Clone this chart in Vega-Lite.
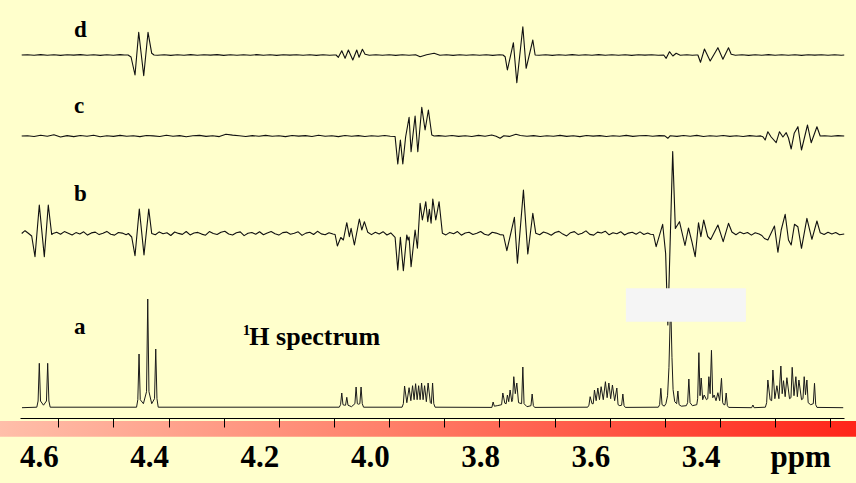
{
"$schema": "https://vega.github.io/schema/vega-lite/v6.json",
"width": 824, "height": 418,
"autosize": "none",
"padding": {"left": 20, "top": 0, "right": 12, "bottom": 65},
"background": "#FFFFCC",
"config": {"view": {"stroke": null}, "font": "Liberation Serif, serif"},
"datasets": {
"a": [{"p":4.6659,"v":0},{"p":4.6390,"v":0.5},{"p":4.6367,"v":6.7},{"p":4.6345,"v":44.4},{"p":4.6323,"v":6.7},{"p":4.6269,"v":2.5},{"p":4.6215,"v":6.7},{"p":4.6193,"v":44.4},{"p":4.6171,"v":6.7},{"p":4.6148,"v":0.5},
{"p":4.4581,"v":0.5},{"p":4.4558,"v":8},{"p":4.4536,"v":53.7},{"p":4.4514,"v":8},{"p":4.4457,"v":4},{"p":4.4400,"v":16},{"p":4.4378,"v":108.7},{"p":4.4356,"v":16},{"p":4.4306,"v":4},{"p":4.4255,"v":9},{"p":4.4233,"v":58.7},{"p":4.4211,"v":9},{"p":4.4188,"v":0.5},
{"p":4.0904,"v":0.5},{"p":4.0881,"v":3},{"p":4.0859,"v":14.7},{"p":4.0837,"v":3},{"p":4.0813,"v":2.5},{"p":4.0790,"v":2.5},{"p":4.0768,"v":10.4},{"p":4.0746,"v":2.5},{"p":4.0683,"v":1},{"p":4.0621,"v":4},{"p":4.0599,"v":20.7},{"p":4.0577,"v":4},{"p":4.0554,"v":3.5},{"p":4.0531,"v":4},{"p":4.0509,"v":20.7},{"p":4.0487,"v":4},{"p":4.0464,"v":0.5},
{"p":3.9765,"v":0.5},{"p":3.9742,"v":4},{"p":3.9720,"v":21.7},{"p":3.9679,"v":5},{"p":3.9638,"v":20},{"p":3.9606,"v":7},{"p":3.9575,"v":22},{"p":3.9547,"v":8},{"p":3.9520,"v":24},{"p":3.9492,"v":8},{"p":3.9465,"v":22},{"p":3.9438,"v":8},{"p":3.9411,"v":24.7},{"p":3.9384,"v":8},{"p":3.9357,"v":22},{"p":3.9325,"v":6},{"p":3.9293,"v":24.7},{"p":3.9252,"v":5},{"p":3.9234,"v":4},{"p":3.9212,"v":24.7},{"p":3.9190,"v":4},{"p":3.9167,"v":0.5},
{"p":3.8136,"v":0.3},{"p":3.8114,"v":5.7},{"p":3.8092,"v":1.5},{"p":3.8040,"v":2},{"p":3.7960,"v":3},{"p":3.7938,"v":14.7},{"p":3.7902,"v":4.5},{"p":3.7877,"v":4},{"p":3.7855,"v":12.7},{"p":3.7831,"v":6},{"p":3.7806,"v":17.7},{"p":3.7775,"v":6},{"p":3.7761,"v":8},{"p":3.7739,"v":31},{"p":3.7712,"v":14},{"p":3.7684,"v":24.7},{"p":3.7653,"v":5},{"p":3.7597,"v":4},{"p":3.7575,"v":40.7},{"p":3.7553,"v":4},{"p":3.7500,"v":1},{"p":3.7428,"v":2},{"p":3.7406,"v":13.7},{"p":3.7384,"v":2},{"p":3.7361,"v":0.3},
{"p":3.6399,"v":0.5},{"p":3.6376,"v":2.5},{"p":3.6354,"v":11},{"p":3.6320,"v":4},{"p":3.6298,"v":4},{"p":3.6276,"v":17.7},{"p":3.6245,"v":7},{"p":3.6215,"v":19.7},{"p":3.6185,"v":8},{"p":3.6155,"v":21},{"p":3.6116,"v":8},{"p":3.6077,"v":26},{"p":3.6046,"v":10},{"p":3.6015,"v":24.7},{"p":3.5982,"v":9},{"p":3.5950,"v":22.7},{"p":3.5910,"v":7},{"p":3.5870,"v":19.7},{"p":3.5848,"v":3},{"p":3.5816,"v":2},{"p":3.5783,"v":2.5},{"p":3.5761,"v":13.7},{"p":3.5739,"v":2},{"p":3.5716,"v":0.3},
{"p":3.5117,"v":0.5},{"p":3.5094,"v":3},{"p":3.5072,"v":19.4},{"p":3.5050,"v":3},{"p":3.5010,"v":1.5},{"p":3.4980,"v":4},{"p":3.4950,"v":12},{"p":3.4925,"v":40},{"p":3.4894,"v":108},{"p":3.4870,"v":50},{"p":3.4850,"v":18},{"p":3.4820,"v":6},{"p":3.4785,"v":4},{"p":3.4763,"v":16.7},{"p":3.4741,"v":3},{"p":3.4700,"v":1.5},{"p":3.4610,"v":2},{"p":3.4586,"v":5},{"p":3.4564,"v":28.7},{"p":3.4542,"v":5},{"p":3.4500,"v":2},
{"p":3.4420,"v":3},{"p":3.4404,"v":9},{"p":3.4382,"v":55},{"p":3.4361,"v":12},{"p":3.4340,"v":29.7},{"p":3.4313,"v":8},{"p":3.4286,"v":12.7},{"p":3.4244,"v":8},{"p":3.4221,"v":9},{"p":3.4201,"v":31},{"p":3.4178,"v":14},{"p":3.4154,"v":57.4},{"p":3.4130,"v":10},{"p":3.4105,"v":12.7},{"p":3.4071,"v":7},{"p":3.4037,"v":15},{"p":3.4005,"v":7},{"p":3.3972,"v":29.4},{"p":3.3950,"v":5},{"p":3.3930,"v":3},{"p":3.3909,"v":3},{"p":3.3887,"v":14.7},{"p":3.3865,"v":2},{"p":3.3842,"v":0.3},
{"p":3.3425,"v":0},{"p":3.3402,"v":2.7},{"p":3.3380,"v":0},
{"p":3.3176,"v":0.5},{"p":3.3153,"v":5},{"p":3.3131,"v":27.7},{"p":3.3090,"v":8},{"p":3.3062,"v":7},{"p":3.3040,"v":37.7},{"p":3.3004,"v":9},{"p":3.2967,"v":22},{"p":3.2931,"v":9},{"p":3.2895,"v":41.7},{"p":3.2871,"v":14},{"p":3.2847,"v":27},{"p":3.2817,"v":11},{"p":3.2786,"v":30},{"p":3.2738,"v":9},{"p":3.2712,"v":10},{"p":3.2690,"v":40.4},{"p":3.2657,"v":12},{"p":3.2623,"v":31},{"p":3.2596,"v":11},{"p":3.2568,"v":27.7},{"p":3.2520,"v":8},{"p":3.2494,"v":9},{"p":3.2472,"v":31},{"p":3.2448,"v":13},{"p":3.2423,"v":27.7},{"p":3.2400,"v":5},{"p":3.2354,"v":3},{"p":3.2307,"v":4},{"p":3.2285,"v":24.4},{"p":3.2263,"v":3},{"p":3.2240,"v":0.3},{"p":3.1764,"v":0}],
"b": [{"p":4.6664,"v":0},{"p":4.6604,"v":2.8},{"p":4.6550,"v":0.5},{"p":4.6483,"v":-2.5},{"p":4.6423,"v":-23.2},{"p":4.6345,"v":28.5},{"p":4.6254,"v":-23.2},{"p":4.6182,"v":28.5},{"p":4.6120,"v":-1},{"p":4.6097,"v":0},
{"p":4.603,"v":1.2},{"p":4.596,"v":-0.8},{"p":4.589,"v":1.9},{"p":4.582,"v":0.3},{"p":4.575,"v":-1.5},{"p":4.568,"v":0.9},{"p":4.561,"v":-0.4},{"p":4.554,"v":1.7},{"p":4.547,"v":-1.6},{"p":4.540,"v":0.6},{"p":4.533,"v":1.4},{"p":4.526,"v":-1.1},{"p":4.519,"v":0.2},{"p":4.512,"v":2.1},{"p":4.505,"v":-0.7},{"p":4.498,"v":-1.6},{"p":4.491,"v":1.0},{"p":4.484,"v":0.4},{"p":4.477,"v":-1.2},
{"p":4.4730,"v":0},{"p":4.4669,"v":-3.5},{"p":4.4609,"v":-22.2},{"p":4.4531,"v":24.5},{"p":4.4446,"v":-21.5},{"p":4.4360,"v":24.5},{"p":4.4306,"v":0},
{"p":4.424,"v":-1.3},{"p":4.417,"v":1.6},{"p":4.410,"v":-0.2},{"p":4.403,"v":0.8},{"p":4.396,"v":-2.0},{"p":4.389,"v":1.5},{"p":4.382,"v":0.1},{"p":4.375,"v":-0.9},{"p":4.368,"v":2.0},{"p":4.361,"v":-1.4},{"p":4.354,"v":0.5},{"p":4.347,"v":1.1},{"p":4.340,"v":-0.6},{"p":4.333,"v":-1.7},{"p":4.326,"v":1.9},{"p":4.319,"v":0.0},{"p":4.312,"v":-1.0},{"p":4.305,"v":1.3},{"p":4.298,"v":2.3},{"p":4.291,"v":-0.5},{"p":4.284,"v":-1.5},{"p":4.277,"v":0.7},{"p":4.270,"v":1.6},{"p":4.263,"v":-2.1},{"p":4.256,"v":0.3},{"p":4.249,"v":1.0},{"p":4.242,"v":-0.8},{"p":4.235,"v":1.8},{"p":4.228,"v":-1.2},{"p":4.221,"v":0.6},{"p":4.214,"v":2.0},{"p":4.207,"v":-0.3},{"p":4.200,"v":-1.6},{"p":4.193,"v":0.9},{"p":4.186,"v":1.4},{"p":4.179,"v":-0.7},{"p":4.172,"v":0.2},{"p":4.165,"v":1.7},{"p":4.158,"v":-1.9},{"p":4.151,"v":0.4},{"p":4.144,"v":1.2},{"p":4.137,"v":-1.0},{"p":4.130,"v":2.2},{"p":4.123,"v":-0.4},{"p":4.116,"v":-1.3},{"p":4.109,"v":0.8},{"p":4.102,"v":-0.5},
{"p":4.0980,"v":-1},{"p":4.0939,"v":-12.5},{"p":4.0877,"v":-4},{"p":4.0830,"v":-6.5},{"p":4.0768,"v":10.8},{"p":4.0721,"v":-3.2},{"p":4.0690,"v":5.2},{"p":4.0630,"v":-11.5},{"p":4.0540,"v":14.5},{"p":4.0496,"v":3.5},{"p":4.0449,"v":11.8},{"p":4.0387,"v":1.2},
{"p":4.032,"v":-1.1},{"p":4.025,"v":1.3},{"p":4.018,"v":-0.4},{"p":4.011,"v":1.8},{"p":4.004,"v":-1.5},{"p":3.997,"v":0.6},
{"p":3.9892,"v":-3.8},{"p":3.9843,"v":-36.5},{"p":3.9796,"v":-3.8},{"p":3.9742,"v":-37.2},{"p":3.9680,"v":-1.5},{"p":3.9656,"v":-6.5},{"p":3.9638,"v":-3.5},{"p":3.9602,"v":-33.2},{"p":3.9529,"v":3.5},{"p":3.9487,"v":-14.8},{"p":3.9438,"v":30.2},{"p":3.9397,"v":13.5},{"p":3.9335,"v":31.8},{"p":3.9299,"v":11.8},{"p":3.9270,"v":24.2},{"p":3.9239,"v":10.2},{"p":3.9208,"v":34.5},{"p":3.9154,"v":13.5},{"p":3.9094,"v":31.8},{"p":3.9034,"v":0.2},
{"p":3.897,"v":-1.4},{"p":3.890,"v":1.1},{"p":3.883,"v":-0.3},{"p":3.876,"v":1.9},{"p":3.869,"v":-1.7},{"p":3.862,"v":0.5},{"p":3.855,"v":1.3},{"p":3.848,"v":-1.0},{"p":3.841,"v":0.2},{"p":3.834,"v":2.0},{"p":3.827,"v":-0.8},{"p":3.820,"v":-1.8},{"p":3.813,"v":1.2},{"p":3.806,"v":0.4},{"p":3.799,"v":-1.1},
{"p":3.7927,"v":-1.5},{"p":3.7865,"v":-17.2},{"p":3.7728,"v":16.2},{"p":3.7673,"v":-29.8},{"p":3.7564,"v":43.5},{"p":3.7485,"v":-20.5},{"p":3.7394,"v":20.2},{"p":3.7340,"v":0.2},
{"p":3.727,"v":-1.2},{"p":3.720,"v":1.5},{"p":3.713,"v":0.2},{"p":3.706,"v":-1.7},{"p":3.699,"v":1.0},{"p":3.692,"v":2.1},{"p":3.685,"v":-0.6},{"p":3.678,"v":-2.4},{"p":3.671,"v":0.8},{"p":3.664,"v":1.9},{"p":3.657,"v":-1.1},{"p":3.650,"v":0.3},{"p":3.643,"v":2.6},{"p":3.636,"v":-0.9},{"p":3.629,"v":-1.6},{"p":3.622,"v":1.4},{"p":3.615,"v":0.5},{"p":3.608,"v":2.3},{"p":3.601,"v":-1.3},{"p":3.594,"v":0.7},{"p":3.587,"v":-0.2},{"p":3.580,"v":1.8},{"p":3.573,"v":-1.5},{"p":3.566,"v":0.4},{"p":3.559,"v":1.2},{"p":3.552,"v":-0.7},{"p":3.545,"v":1.6},{"p":3.538,"v":-1.0},{"p":3.531,"v":0.5},{"p":3.526,"v":-0.8},
{"p":3.5206,"v":-1},{"p":3.5157,"v":-13.2},{"p":3.5039,"v":9.2},{"p":3.4985,"v":-20},{"p":3.4945,"v":-91.5},{"p":3.4857,"v":82},{"p":3.4809,"v":5},{"p":3.4734,"v":11.8},{"p":3.4634,"v":-12},{"p":3.4571,"v":5.5},{"p":3.4509,"v":-8.2},{"p":3.4449,"v":-23.2},{"p":3.4389,"v":10.8},{"p":3.4346,"v":-3.2},{"p":3.4295,"v":13.5},{"p":3.4222,"v":-3},{"p":3.4168,"v":-6},{"p":3.4037,"v":8.5},{"p":3.3941,"v":-8.2},{"p":3.3845,"v":10.2},{"p":3.3783,"v":1.5},
{"p":3.371,"v":-1.2},{"p":3.364,"v":1.4},{"p":3.357,"v":-0.3},{"p":3.350,"v":1.0},{"p":3.343,"v":-1.6},{"p":3.336,"v":0.8},{"p":3.329,"v":-0.5},{"p":3.324,"v":-2.0},
{"p":3.3192,"v":-5},{"p":3.3131,"v":-6.5},{"p":3.3011,"v":7.5},{"p":3.2949,"v":-18.8},{"p":3.2889,"v":3.5},{"p":3.2817,"v":19.2},{"p":3.2757,"v":-6.5},{"p":3.2708,"v":-11.5},{"p":3.2648,"v":9.2},{"p":3.2587,"v":6.8},{"p":3.2521,"v":-14.8},{"p":3.2423,"v":15.2},{"p":3.2332,"v":-5.8},{"p":3.2241,"v":12.5},{"p":3.2182,"v":0.8},
{"p":3.211,"v":-1.0},{"p":3.204,"v":1.2},{"p":3.197,"v":-0.4},{"p":3.190,"v":0.9},{"p":3.183,"v":-1.3},{"p":3.1746,"v":-0.5}],
"c": [{"p":4.6664,"v":0},{"p":4.656,"v":0.3},{"p":4.644,"v":-0.5},{"p":4.632,"v":0.8},{"p":4.620,"v":-0.2},{"p":4.608,"v":1.3},{"p":4.596,"v":-1.0},{"p":4.584,"v":0.4},{"p":4.572,"v":-0.6},{"p":4.560,"v":0.5},{"p":4.548,"v":-0.3},{"p":4.536,"v":0.7},{"p":4.524,"v":-0.8},{"p":4.512,"v":0.2},{"p":4.500,"v":-0.4},{"p":4.488,"v":0.6},{"p":4.476,"v":-0.2},{"p":4.464,"v":0.3},{"p":4.452,"v":-0.6},{"p":4.440,"v":0.5},{"p":4.428,"v":0.1},{"p":4.416,"v":-0.5},{"p":4.404,"v":0.7},{"p":4.392,"v":-0.3},{"p":4.380,"v":0.4},{"p":4.368,"v":-0.7},{"p":4.356,"v":0.2},{"p":4.344,"v":0.6},{"p":4.332,"v":-0.4},{"p":4.320,"v":0.3},{"p":4.308,"v":-0.6},{"p":4.296,"v":1.8},{"p":4.284,"v":0.9},{"p":4.272,"v":0.2},{"p":4.260,"v":-0.5},{"p":4.248,"v":0.4},{"p":4.236,"v":-0.3},{"p":4.224,"v":0.6},{"p":4.212,"v":-0.2},{"p":4.200,"v":0.3},{"p":4.188,"v":-0.6},{"p":4.176,"v":0.5},{"p":4.164,"v":-0.1},{"p":4.152,"v":0.4},{"p":4.140,"v":-0.5},{"p":4.128,"v":0.7},{"p":4.116,"v":-0.3},{"p":4.104,"v":0.2},{"p":4.092,"v":-0.6},{"p":4.080,"v":0.5},{"p":4.068,"v":-0.2},{"p":4.056,"v":0.4},{"p":4.044,"v":-0.5},{"p":4.032,"v":0.3},{"p":4.020,"v":-0.3},{"p":4.008,"v":0.5},{"p":3.998,"v":-0.2},
{"p":3.9892,"v":-0.5},{"p":3.9843,"v":-28},{"p":3.9796,"v":-4},{"p":3.9752,"v":-28},{"p":3.9701,"v":-1},{"p":3.9638,"v":18.7},{"p":3.9602,"v":-15.7},{"p":3.9529,"v":20},{"p":3.9480,"v":-15.7},{"p":3.9408,"v":28.7},{"p":3.9348,"v":6},{"p":3.9288,"v":26},{"p":3.9226,"v":1},{"p":3.9184,"v":0},
{"p":3.910,"v":0.4},{"p":3.898,"v":-0.3},{"p":3.886,"v":0.5},{"p":3.874,"v":-0.4},{"p":3.862,"v":0.2},{"p":3.850,"v":-0.5},{"p":3.838,"v":0.6},{"p":3.826,"v":-0.2},{"p":3.814,"v":1.0},{"p":3.806,"v":-0.3},{"p":3.7987,"v":-2.3},{"p":3.792,"v":0.2},{"p":3.782,"v":-0.4},{"p":3.770,"v":1.7},{"p":3.762,"v":0.5},{"p":3.750,"v":-0.3},{"p":3.738,"v":0.4},{"p":3.726,"v":-0.5},{"p":3.714,"v":0.3},{"p":3.702,"v":-0.2},{"p":3.690,"v":0.6},{"p":3.678,"v":-0.4},{"p":3.666,"v":0.2},{"p":3.654,"v":-0.6},{"p":3.642,"v":0.5},{"p":3.630,"v":-0.1},{"p":3.618,"v":0.4},{"p":3.606,"v":-0.5},{"p":3.594,"v":0.3},{"p":3.582,"v":-0.3},{"p":3.570,"v":0.6},{"p":3.558,"v":-0.4},{"p":3.546,"v":0.2},{"p":3.534,"v":0.5},{"p":3.522,"v":-0.3},{"p":3.510,"v":0.4},{"p":3.500,"v":0.1},{"p":3.4945,"v":-2.3},{"p":3.490,"v":0.3},{"p":3.478,"v":-0.4},{"p":3.466,"v":0.5},{"p":3.454,"v":-0.2},{"p":3.442,"v":0.6},{"p":3.430,"v":-0.5},{"p":3.418,"v":0.3},{"p":3.406,"v":-0.3},{"p":3.394,"v":0.5},{"p":3.382,"v":-0.4},{"p":3.370,"v":0.2},{"p":3.358,"v":-0.5},{"p":3.346,"v":0.4},{"p":3.334,"v":-0.2},{"p":3.326,"v":0.1},
{"p":3.3221,"v":-0.7},{"p":3.3180,"v":-4},{"p":3.3131,"v":4.3},{"p":3.3071,"v":-1},{"p":3.2980,"v":-6.7},{"p":3.2920,"v":4.3},{"p":3.2858,"v":-1},{"p":3.2798,"v":3.3},{"p":3.2757,"v":-2},{"p":3.2708,"v":-13},{"p":3.2653,"v":2.7},{"p":3.2586,"v":9.3},{"p":3.2521,"v":-14},{"p":3.2412,"v":11},{"p":3.2345,"v":-6.7},{"p":3.2241,"v":9.3},{"p":3.2182,"v":0},
{"p":3.210,"v":0.3},{"p":3.198,"v":-0.3},{"p":3.186,"v":0.4},{"p":3.1746,"v":0}],
"d": [{"p":4.6664,"v":0},{"p":4.656,"v":0.3},{"p":4.644,"v":-0.2},{"p":4.632,"v":0.4},{"p":4.620,"v":-0.3},{"p":4.608,"v":0.2},{"p":4.596,"v":-0.4},{"p":4.584,"v":0.3},{"p":4.572,"v":-0.1},{"p":4.560,"v":0.4},{"p":4.548,"v":-0.3},{"p":4.536,"v":0.2},{"p":4.524,"v":-0.4},{"p":4.512,"v":0.3},{"p":4.500,"v":-0.2},{"p":4.488,"v":0.4},{"p":4.480,"v":0},
{"p":4.4736,"v":0},{"p":4.4681,"v":-2},{"p":4.4609,"v":-20},{"p":4.4542,"v":22.7},{"p":4.4451,"v":-20.7},{"p":4.4373,"v":22.7},{"p":4.4306,"v":1.7},{"p":4.4264,"v":0},
{"p":4.420,"v":-0.3},{"p":4.408,"v":0.3},{"p":4.396,"v":-0.4},{"p":4.384,"v":0.2},{"p":4.372,"v":-0.2},{"p":4.360,"v":0.4},{"p":4.348,"v":-0.3},{"p":4.336,"v":0.2},{"p":4.324,"v":-0.1},{"p":4.312,"v":0.4},{"p":4.300,"v":-0.4},{"p":4.288,"v":0.2},{"p":4.276,"v":-0.2},{"p":4.264,"v":0.3},{"p":4.252,"v":-0.3},{"p":4.240,"v":0.4},{"p":4.228,"v":-0.2},{"p":4.216,"v":0.2},{"p":4.204,"v":-0.4},{"p":4.192,"v":0.3},{"p":4.180,"v":-0.1},{"p":4.168,"v":0.3},{"p":4.156,"v":-0.3},{"p":4.144,"v":0.2},{"p":4.132,"v":-0.4},{"p":4.120,"v":0.3},{"p":4.108,"v":-0.2},{"p":4.100,"v":0},
{"p":4.0962,"v":0},{"p":4.0921,"v":-2.3},{"p":4.0859,"v":4.3},{"p":4.0799,"v":-3.3},{"p":4.0739,"v":5},{"p":4.0659,"v":-5},{"p":4.0587,"v":5},{"p":4.0545,"v":-2.3},{"p":4.0485,"v":5.7},{"p":4.0436,"v":0.7},
{"p":4.036,"v":-0.2},{"p":4.024,"v":0.3},{"p":4.012,"v":-0.3},{"p":4.000,"v":0.2},{"p":3.988,"v":-0.4},{"p":3.976,"v":0.3},{"p":3.964,"v":-0.2},{"p":3.952,"v":0.3},{"p":3.9438,"v":-1.7},{"p":3.932,"v":0.2},{"p":3.9184,"v":1.7},{"p":3.908,"v":-0.3},{"p":3.896,"v":0.2},{"p":3.884,"v":-0.4},{"p":3.872,"v":0.3},{"p":3.860,"v":-0.2},{"p":3.848,"v":0.3},{"p":3.836,"v":-0.3},{"p":3.824,"v":0.2},{"p":3.812,"v":-0.4},{"p":3.800,"v":0.2},{"p":3.7935,"v":0},
{"p":3.7896,"v":-1.7},{"p":3.7855,"v":-15},{"p":3.7746,"v":12.3},{"p":3.7684,"v":-27.7},{"p":3.7575,"v":28.3},{"p":3.7515,"v":-13.3},{"p":3.7394,"v":15},{"p":3.7352,"v":0},
{"p":3.728,"v":-0.3},{"p":3.716,"v":0.2},{"p":3.704,"v":-0.4},{"p":3.692,"v":0.3},{"p":3.680,"v":-0.2},{"p":3.668,"v":0.4},{"p":3.656,"v":-0.3},{"p":3.644,"v":0.2},{"p":3.632,"v":-0.2},{"p":3.620,"v":0.4},{"p":3.608,"v":-0.3},{"p":3.596,"v":0.3},{"p":3.584,"v":-0.2},{"p":3.572,"v":0.2},{"p":3.560,"v":-0.4},{"p":3.548,"v":0.3},{"p":3.536,"v":-0.1},{"p":3.524,"v":0.3},{"p":3.512,"v":-0.3},{"p":3.502,"v":0},
{"p":3.4975,"v":-3.3},{"p":3.4916,"v":3.3},{"p":3.4854,"v":-1},{"p":3.4794,"v":1.7},
{"p":3.472,"v":-0.2},{"p":3.460,"v":0.3},{"p":3.450,"v":-0.3},{"p":3.4430,"v":0},
{"p":3.4400,"v":0},{"p":3.4353,"v":-7.3},{"p":3.4281,"v":6},{"p":3.4177,"v":-6},{"p":3.4037,"v":7.3},{"p":3.3946,"v":-4.3},{"p":3.3845,"v":7.3},{"p":3.3796,"v":0.7},
{"p":3.372,"v":-0.3},{"p":3.360,"v":0.2},{"p":3.348,"v":-0.4},{"p":3.336,"v":0.3},{"p":3.324,"v":-0.2},{"p":3.312,"v":0.4},{"p":3.300,"v":-0.3},{"p":3.288,"v":0.2},{"p":3.276,"v":-0.2},{"p":3.264,"v":0.3},{"p":3.252,"v":-0.4},{"p":3.240,"v":0.2},{"p":3.228,"v":-0.1},{"p":3.216,"v":0.3},{"p":3.204,"v":-0.3},{"p":3.192,"v":0.2},{"p":3.180,"v":-0.2},{"p":3.1746,"v":0}],
"labels": [{"t":"d","label":"d","p":4.5716,"v":18.3},{"t":"c","label":"c","p":4.5716,"v":23.3},{"t":"b","label":"b","p":4.5716,"v":32.5},{"t":"a","label":"a","p":4.5716,"v":73.4},{"t":"sup","label":"1","p":4.2655,"v":72.7},{"t":"s","label":"H spectrum","p":4.2535,"v":62.7}],
"box": [{"p":3.5706,"p2":3.3529,"v":86,"v2":119.4}],
"band": [{"p":4.71,"p2":3.15,"v":-13.3,"v2":-29}]
},
"encoding": {
"x": {"field": "p", "type": "quantitative",
"scale": {"domain": [3.175, 4.6695], "reverse": true, "nice": false, "zero": false},
"axis": {"values": [4.6,4.5,4.4,4.3,4.2,4.1,4.0,3.9,3.8,3.7,3.6,3.5,3.4,3.3,3.2],
"title": null, "grid": false, "zindex": 1,
"domainColor": "#000000", "domainWidth": 1,
"tickColor": "#000000", "tickSize": 9, "tickWidth": 1,
"labelExpr": "datum.value < 3.25 ? 'ppm' : (round(datum.value*10) % 2 == 0 ? format(datum.value, '.1f') : '')",
"labelFont": "Liberation Serif, serif", "labelFontWeight": "bold", "labelFontSize": 31, "labelColor": "#000000",
"labelAlign": "right", "labelBaseline": "top", "labelPadding": 15, "labelDx": 3,
"labelOverlap": false, "labelBound": false, "labelFlush": false}}
},
"layer": [
{"encoding": {"y": {"field": "v", "type": "quantitative", "scale": {"domain": [-363, 55], "nice": false, "zero": false}, "axis": null}},
 "layer": [
  {"data": {"name": "d"}, "mark": {"type": "line", "stroke": "#111111", "strokeWidth": 1.1, "strokeJoin": "round"}},
  {"data": {"name": "labels"}, "transform": [{"filter": "datum.t == 'd'"}], "mark": {"type": "text", "font": "Liberation Serif, serif", "fontWeight": "bold", "fontSize": 23, "align": "left", "baseline": "alphabetic", "color": "#000000"}, "encoding": {"text": {"field": "label"}}}
 ]},
{"encoding": {"y": {"field": "v", "type": "quantitative", "scale": {"domain": [-282, 136], "nice": false, "zero": false}, "axis": null}},
 "layer": [
  {"data": {"name": "c"}, "mark": {"type": "line", "stroke": "#111111", "strokeWidth": 1.1, "strokeJoin": "round"}},
  {"data": {"name": "labels"}, "transform": [{"filter": "datum.t == 'c'"}], "mark": {"type": "text", "font": "Liberation Serif, serif", "fontWeight": "bold", "fontSize": 23, "align": "left", "baseline": "alphabetic", "color": "#000000"}, "encoding": {"text": {"field": "label"}}}
 ]},
{"encoding": {"y": {"field": "v", "type": "quantitative", "scale": {"domain": [-184.5, 233.5], "nice": false, "zero": false}, "axis": null}},
 "layer": [
  {"data": {"name": "b"}, "mark": {"type": "line", "stroke": "#111111", "strokeWidth": 1.1, "strokeJoin": "round"}},
  {"data": {"name": "labels"}, "transform": [{"filter": "datum.t == 'b'"}], "mark": {"type": "text", "font": "Liberation Serif, serif", "fontWeight": "bold", "fontSize": 23, "align": "left", "baseline": "alphabetic", "color": "#000000"}, "encoding": {"text": {"field": "label"}}}
 ]},
{"encoding": {"y": {"field": "v", "type": "quantitative", "scale": {"domain": [-10.3, 407.7], "nice": false, "zero": false}, "axis": null}},
 "layer": [
  {"data": {"name": "band"}, "mark": {"type": "rect", "fill": {"gradient": "linear", "x1": 0, "y1": 0, "x2": 1, "y2": 0, "stops": [{"offset": 0, "color": "#FFBFAA"}, {"offset": 0.45, "color": "#FF806A"}, {"offset": 1, "color": "#FF2519"}]}}, "encoding": {"x2": {"field": "p2"}, "y2": {"field": "v2"}}},
  {"data": {"name": "a"}, "mark": {"type": "line", "stroke": "#1a1a1a", "strokeWidth": 1, "strokeJoin": "round"}},
  {"data": {"name": "box"}, "mark": {"type": "rect", "fill": "#F5F5F5"}, "encoding": {"x2": {"field": "p2"}, "y2": {"field": "v2"}}},
  {"data": {"name": "labels"}, "transform": [{"filter": "datum.t == 'a'"}], "mark": {"type": "text", "font": "Liberation Serif, serif", "fontWeight": "bold", "fontSize": 23, "align": "left", "baseline": "alphabetic", "color": "#000000"}, "encoding": {"text": {"field": "label"}}},
  {"data": {"name": "labels"}, "transform": [{"filter": "datum.t == 'sup'"}], "mark": {"type": "text", "font": "Liberation Serif, serif", "fontWeight": "bold", "fontSize": 15, "align": "left", "baseline": "alphabetic", "color": "#000000"}, "encoding": {"text": {"field": "label"}}},
  {"data": {"name": "labels"}, "transform": [{"filter": "datum.t == 's'"}], "mark": {"type": "text", "font": "Liberation Serif, serif", "fontWeight": "bold", "fontSize": 26, "align": "left", "baseline": "alphabetic", "color": "#000000"}, "encoding": {"text": {"field": "label"}}}
 ]}
],
"resolve": {"scale": {"y": "independent"}}
}
